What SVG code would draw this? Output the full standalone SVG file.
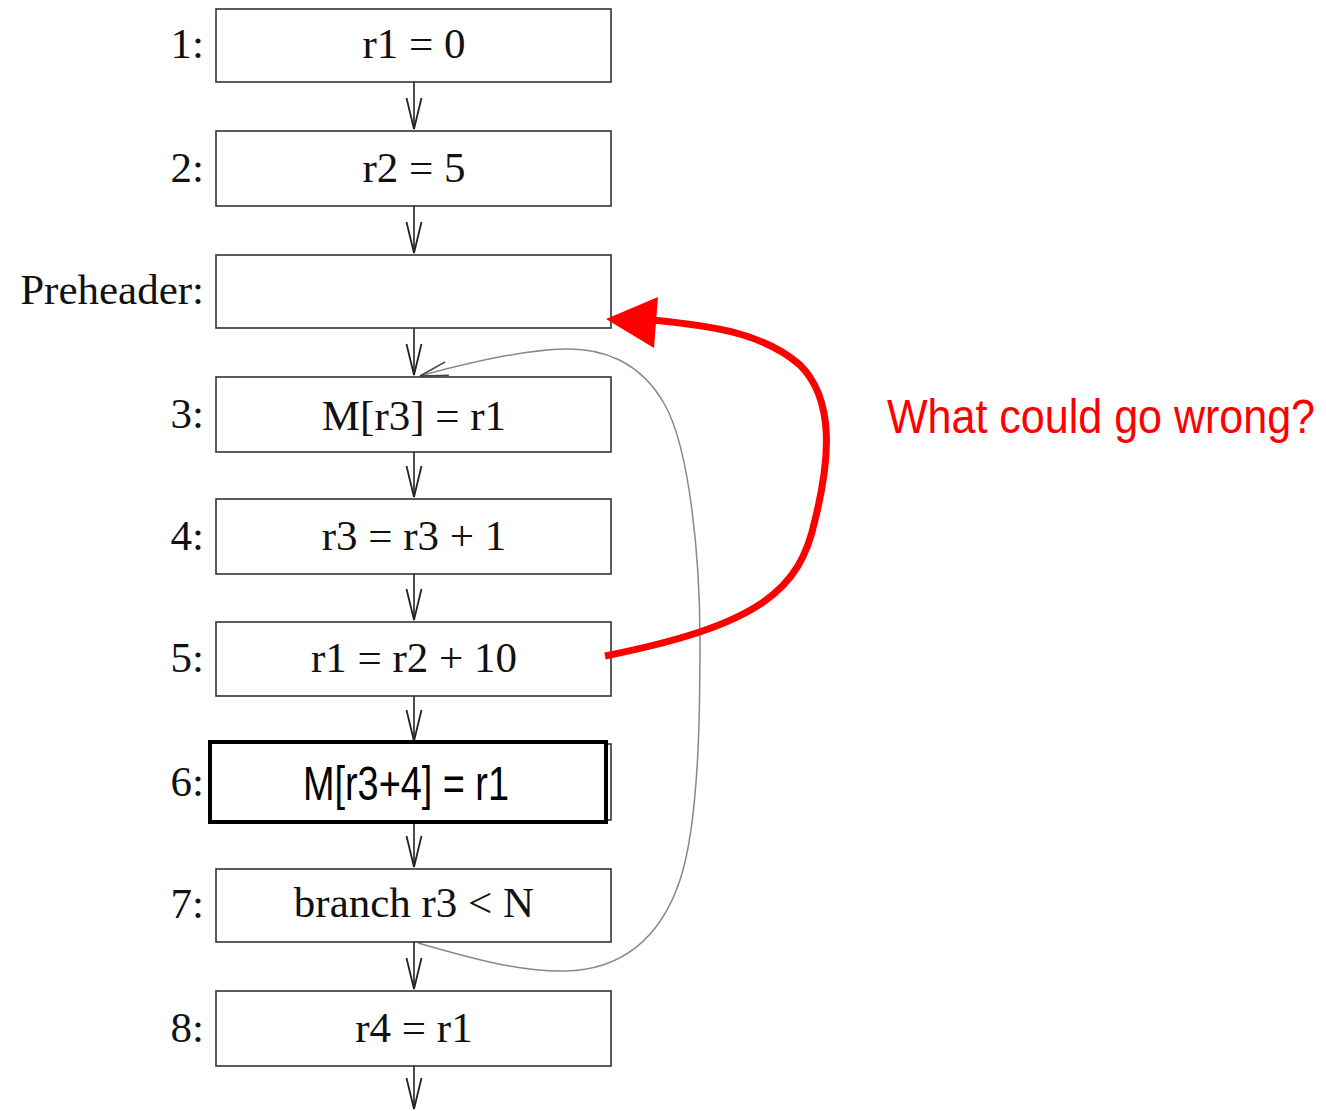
<svg xmlns="http://www.w3.org/2000/svg" width="1326" height="1111" viewBox="0 0 1326 1111">
<style>
.box{fill:#fff;stroke:#333;stroke-width:1.6}
.t{font-family:"Liberation Serif","Times New Roman",serif;font-size:43px;fill:#111}
.c{text-anchor:middle}
.l{text-anchor:end}
.e{fill:none;stroke:#222;stroke-width:1.6}
.n{font-family:"Liberation Sans",Arial,sans-serif}
</style>
<defs>
<marker id="v" markerUnits="userSpaceOnUse" markerWidth="40" markerHeight="20" refX="0" refY="0" viewBox="-34 -10 40 20" orient="auto" overflow="visible">
<path d="M-31,-7.5 L0,0 L-31,7.5" fill="none" stroke="#222" stroke-width="1.8"/>
</marker>
<marker id="vg" markerUnits="userSpaceOnUse" markerWidth="40" markerHeight="20" refX="0" refY="0" viewBox="-34 -10 40 20" orient="auto" overflow="visible">
<path d="M-28,-7 L0,0 L-28,7" fill="none" stroke="#444" stroke-width="1.6"/>
</marker>
</defs>
<rect width="1326" height="1111" fill="#fff"/>
<g id="edges">
<line class="e" x1="414" y1="82" x2="414" y2="129" marker-end="url(#v)"/>
<line class="e" x1="414" y1="206" x2="414" y2="253" marker-end="url(#v)"/>
<line class="e" x1="414" y1="328" x2="414" y2="375" marker-end="url(#v)"/>
<line class="e" x1="414" y1="452" x2="414" y2="497" marker-end="url(#v)"/>
<line class="e" x1="414" y1="574" x2="414" y2="620" marker-end="url(#v)"/>
<line class="e" x1="414" y1="696" x2="414" y2="741" marker-end="url(#v)"/>
<line class="e" x1="414" y1="823" x2="414" y2="867" marker-end="url(#v)"/>
<line class="e" x1="414" y1="942" x2="414" y2="989" marker-end="url(#v)"/>
<line class="e" x1="414" y1="1066" x2="414" y2="1109" marker-end="url(#v)"/>
<path d="M418,943 C470,958 520,972 565,971 C620,970 660,940 680,880 C700,820 700,700 700,640 C700,560 690,450 665,405 C640,360 600,348 565,349 C520,350 460,365 420,376" fill="none" stroke="#888" stroke-width="1.5" marker-end="url(#vg)"/>
</g>
<g id="n1"><rect class="box" x="216" y="9" width="395" height="73"/><text class="t c" x="414" y="58">r1 = 0</text><text class="t l" x="204" y="58">1:</text></g>
<g id="n2"><rect class="box" x="216" y="131" width="395" height="75"/><text class="t c" x="414" y="182">r2 = 5</text><text class="t l" x="204" y="182">2:</text></g>
<g id="pre"><rect class="box" x="216" y="255" width="395" height="73"/><text class="t l" x="204" y="304">Preheader:</text></g>
<g id="n3"><rect class="box" x="216" y="377" width="395" height="75"/><text class="t c" x="414" y="430">M[r3] = r1</text><text class="t l" x="204" y="428">3:</text></g>
<g id="n4"><rect class="box" x="216" y="499" width="395" height="75"/><text class="t c" x="414" y="550">r3 = r3 + 1</text><text class="t l" x="204" y="550">4:</text></g>
<g id="n5"><rect class="box" x="216" y="622" width="395" height="74"/><text class="t c" x="414" y="672">r1 = r2 + 10</text><text class="t l" x="204" y="672">5:</text></g>
<g id="n6"><rect class="box" x="216" y="744" width="395" height="76"/><rect x="210" y="742" width="396" height="80" fill="#fff" stroke="#000" stroke-width="4"/><text class="n c" x="406" y="800" font-size="48" fill="#000" textLength="206" lengthAdjust="spacingAndGlyphs">M[r3+4] = r1</text><text class="t l" x="204" y="796">6:</text></g>
<g id="n7"><rect class="box" x="216" y="869" width="395" height="73"/><text class="t c" x="414" y="917">branch r3 &lt; N</text><text class="t l" x="204" y="918">7:</text></g>
<g id="n8"><rect class="box" x="216" y="991" width="395" height="75"/><text class="t c" x="414" y="1042">r4 = r1</text><text class="t l" x="204" y="1042">8:</text></g>
<g id="annot">
<path d="M605,656 C760,625 800,590 815,520 C830,460 835,400 800,365 C760,330 700,325 652,320" fill="none" stroke="#f00" stroke-width="7"/>
<polygon points="606,319 658,297 654,348" fill="#f00"/>
<text class="n" x="887" y="433" font-size="48" fill="#f00" textLength="428" lengthAdjust="spacingAndGlyphs">What could go wrong?</text>
</g>
</svg>
